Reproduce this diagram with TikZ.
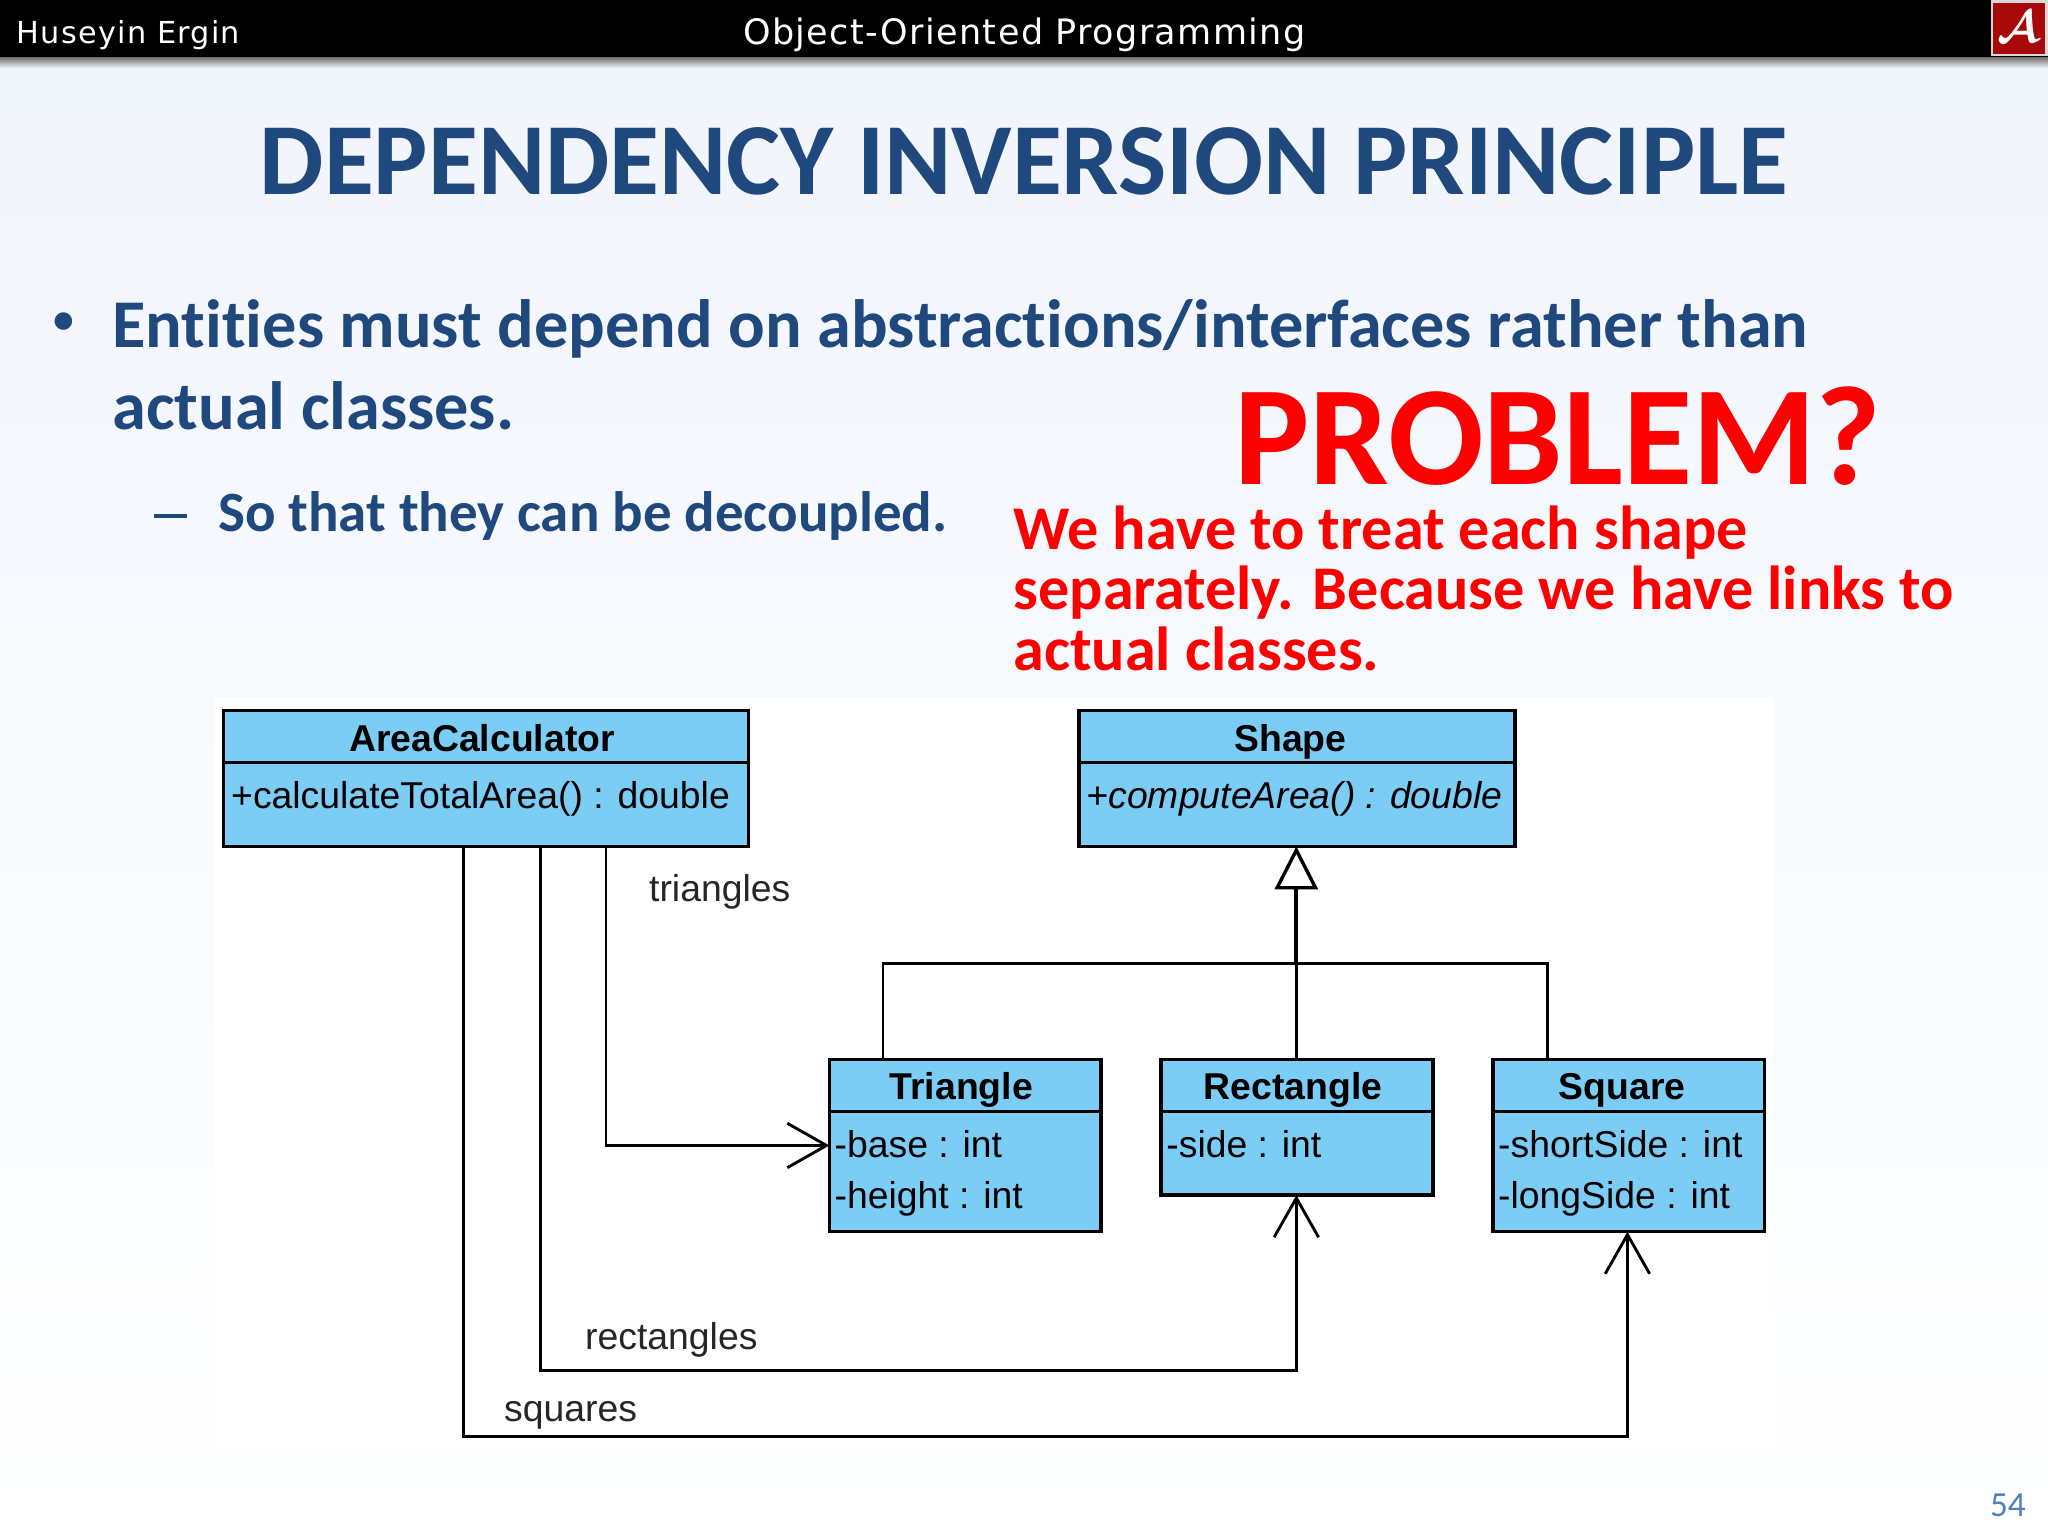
\documentclass[tikz,border=0pt]{standalone}
\usepackage{fontspec}
\usetikzlibrary{arrows.meta}
\setmainfont[Ligatures=NoCommon]{Carlito}
\newfontfamily\umlfont{Liberation Sans}
\newfontfamily\hdrfont[LetterSpace=4]{DejaVu Sans}
\definecolor{titleblue}{HTML}{1F497D}
\definecolor{umlblue}{HTML}{7BCDF5}
\definecolor{pagebg}{HTML}{F1F5FC}
\definecolor{logored}{HTML}{A80808}
\definecolor{numblue}{HTML}{4F81BD}
\newcommand{\fsz}[1]{\fontsize{#1}{#1}\selectfont}
\tikzset{
  x=0.5pt,y=-0.5pt,
  every node/.style={inner sep=0pt,outer sep=0pt},
  txt/.style={anchor=base west},
  bluetxt/.style={txt,text=titleblue,font=\bfseries\fsz{26.15}},
  redtxt/.style={txt,text=red,font=\bfseries\fsz{23.8}},
  umlhead/.style={draw=black,fill=umlblue,line width=1.3pt,anchor=north west,font=\umlfont\bfseries\fsz{14.3},text=black},
  umlbody/.style={draw=black,fill=umlblue,line width=1.3pt,anchor=north west},
  umlattr/.style={anchor=base west,font=\umlfont\fsz{14.3},text=black},
  umllabel/.style={anchor=base west,font=\umlfont\fsz{14.3},text=black!85},
  assoc/.style={draw=black,line width=1.1pt,-{Straight Barb[length=15pt,width=17pt,line width=1.1pt]}},
  genline/.style={draw=black,line width=1.1pt},
}
\begin{document}
\begin{tikzpicture}
\useasboundingbox (0,0) rectangle (1568,1176);
% background
\shade[top color=pagebg,bottom color=white] (0,44) rectangle (1568,1176);
\shade[top color=black!55,bottom color=pagebg] (0,44) rectangle (1568,52);
\fill[black] (0,0) rectangle (1568,44);
\node[txt,text=white,font=\hdrfont\fsz{11.6}] (hdrL) at (13,33) {Huseyin Ergin};
\node[txt,text=white,font=\hdrfont\fsz{13.4}] (hdrC) at (569,34) {Object-Oriented Programming};
% logo
\fill[white!85!black] (1524,0) rectangle (1568,43);
\fill[logored] (1526,2) rectangle (1566,41);
\node[text=white,font=\fsz{17}\boldmath] (logo) at (1545,21) {$\mathcal{A}$};
% title
\node[anchor=base,text=titleblue,font=\bfseries\fsz{39.1}] (title) at (784,149) {DEPENDENCY INVERSION PRINCIPLE};
% bullets
\node[text=titleblue,font=\fsz{19}] (bul) at (49,248) {•};
\node[bluetxt] (l1) at (86,266) {Entities must depend on abstractions/interfaces rather than};
\node[bluetxt] (l2) at (86,329) {actual classes.};
\fill[titleblue] (118,393.5) rectangle (143,396.5);
\node[txt,text=titleblue,font=\bfseries\fsz{21.8}] (l3) at (167,407) {So that they can be decoupled.};
% red
\node[txt,text=red,font=\bfseries\fsz{54.2}] (prob) at (945,371) {PROBLEM?};
\node[redtxt] (r1) at (776,421) {We have to treat each shape};
\node[redtxt] (r2) at (776,467) {separately. Because we have links to};
\node[redtxt] (r3) at (776,513) {actual classes.};
% uml image backdrop
\fill[white] (164,534) rectangle (1358,1110);
% classes
\node[umlhead,minimum width=201pt,minimum height=20pt] (acH) at (171,544) {};
\node[umlbody,minimum width=201pt,minimum height=32pt] (acB) at (171,584) {};
\node[anchor=base,font=\umlfont\bfseries\fsz{14.3}] (acT) at (369,575) {AreaCalculator};
\node[umlattr] (acA) at (177,619) {+calculateTotalArea() : double};

\node[umlhead,minimum width=167pt,minimum height=20pt] (shH) at (826,544) {};
\node[umlbody,minimum width=167pt,minimum height=32pt] (shB) at (826,584) {};
\node[anchor=base,font=\umlfont\bfseries\fsz{14.3}] (shT) at (988,575) {Shape};
\node[umlattr,font=\umlfont\itshape\fsz{14.3}] (shA) at (832,619) {+computeArea() : double};

\node[umlhead,minimum width=104pt,minimum height=20pt] (trH) at (635,811) {};
\node[umlbody,minimum width=104pt,minimum height=46pt] (trB) at (635,851) {};
\node[anchor=base,font=\umlfont\bfseries\fsz{14.3}] (trT) at (736,842) {Triangle};
\node[umlattr] (trA) at (639,886) {-base : int};
\node[umlattr] (trC) at (639,925) {-height : int};

\node[umlhead,minimum width=104pt,minimum height=20pt] (reH) at (889,811) {};
\node[umlbody,minimum width=104pt,minimum height=32pt] (reB) at (889,851) {};
\node[anchor=base,font=\umlfont\bfseries\fsz{14.3}] (reT) at (990,842) {Rectangle};
\node[umlattr] (reA) at (893,886) {-side : int};

\node[umlhead,minimum width=104pt,minimum height=20pt] (sqH) at (1143,811) {};
\node[umlbody,minimum width=104pt,minimum height=46pt] (sqB) at (1143,851) {};
\node[anchor=base,font=\umlfont\bfseries\fsz{14.3}] (sqT) at (1242,842) {Square};
\node[umlattr] (sqA) at (1147,886) {-shortSide : int};
\node[umlattr] (sqC) at (1147,925) {-longSide : int};
% association ends
\coordinate (xa1) at (464,0);
\coordinate (xa2) at (414,0);
\coordinate (xa3) at (355,0);
\coordinate (yt) at (0,877);
\coordinate (xr) at (992.5,0);
\coordinate (xs) at (1246,0);
\coordinate (a1) at (acB.south -| xa1);
\coordinate (a2) at (acB.south -| xa2);
\coordinate (a3) at (acB.south -| xa3);
\coordinate (j) at (992.5,738);
\coordinate (jl) at (676,738);
\coordinate (jr) at (1185,738);
\coordinate (reIn) at (reB.south -| xr);
\coordinate (sqIn) at (sqB.south -| xs);
\coordinate (shIn) at (shB.south -| xr);
\draw[assoc] (a1) |- (trB.west |- yt);
\draw[assoc] (a2) -- (414,1049) -- (992.5,1049) -- (reIn);
\draw[assoc] (a3) -- (355,1100) -- (1246,1100) -- (sqIn);
% generalisation
\draw[genline] (jl |- trH.north) -- (jl) -- (jr) -- (jr |- sqH.north);
\draw[genline] (xr |- reH.north) -- (j);
\draw[genline,line width=1.5pt,-{Triangle[open,length=16.5pt,width=16.5pt,line width=1.3pt,fill=white]}] (j) -- (shIn);
% labels
\node[umllabel] (lt) at (497,690) {triangles};
\node[umllabel] (lr) at (448,1033) {rectangles};
\node[umllabel] (ls) at (386,1088) {squares};
\node[anchor=base east,text=numblue,font=\fsz{13.5}] (pg) at (1551,1161) {54};
\end{tikzpicture}
\end{document}
